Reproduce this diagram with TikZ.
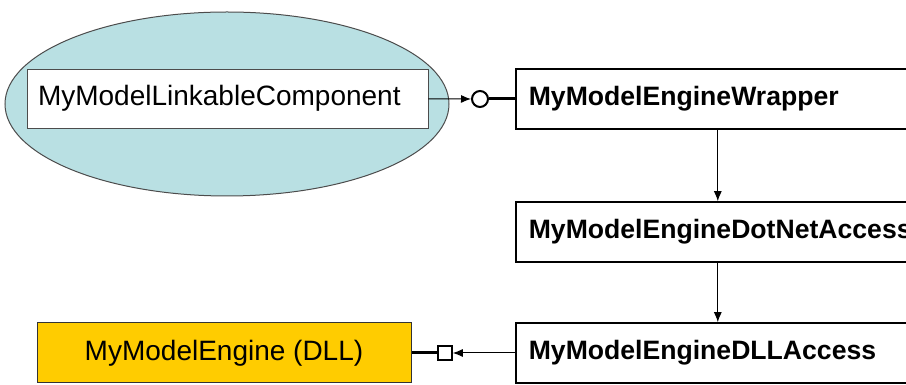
\documentclass[tikz,border=0pt]{standalone}
\usepackage{fontspec}
\setmainfont{Liberation Sans}
\usetikzlibrary{arrows,arrows.meta,shapes}
\definecolor{compblue}{RGB}{185,224,227}
\definecolor{dllyellow}{RGB}{255,204,0}

\begin{document}
\begin{tikzpicture}[x=1pt,y=1pt,>={Latex[length=10pt,width=8pt]},
    engbox/.style={draw,line width=1.6pt,minimum height=60pt,text width=378pt,inner xsep=13pt,anchor=west,font=\bfseries\fontsize{26.6}{31}\selectfont},
    thinlink/.style={->,line width=1pt},
    thicklink/.style={line width=3pt}]
                \useasboundingbox (0,0) rectangle (906,385);
                \clip (0,0) rectangle (906,385);
                \node[shape=ellipse,draw=black!70,fill=compblue,line width=1pt,minimum width=444pt,minimum height=184pt,inner sep=0pt](comp)at(227, 281){};
                \node[draw=black!70,fill=white,line width=0.8pt,minimum height=59pt,text width=379pt,inner xsep=11pt,font=\fontsize{28}{32}\selectfont](linkable)at(227.5, 286.5){MyModelLinkableComponent};
                \node[shape=circle,draw=black,line width=2pt,minimum size=16pt,inner sep=0pt](iface)at(480, 286){};
                \node[engbox](wrapper)at(515, 286){MyModelEngineWrapper};
                \node[engbox](dotnet)at(515, 153){MyModelEngineDotNetAccess};
                \node[engbox](dllaccess)at(515, 32){MyModelEngineDLLAccess};
                \node[shape=rectangle,draw=black,line width=1.6pt,minimum size=14pt,inner sep=0pt](port)at(445, 32){};
                \node[draw=black!80,fill=dllyellow,line width=1pt,minimum width=374pt,minimum height=60pt,font=\fontsize{28}{32}\selectfont](engine)at(224, 32){MyModelEngine (DLL)};
                \path[thinlink](linkable) edge (iface)
                (wrapper) edge (dotnet)
                (dotnet) edge (dllaccess)
                (dllaccess) edge (port);
                \path[thicklink](iface) edge (wrapper)
                (port) edge (engine);
            \end{tikzpicture}
\end{document}
